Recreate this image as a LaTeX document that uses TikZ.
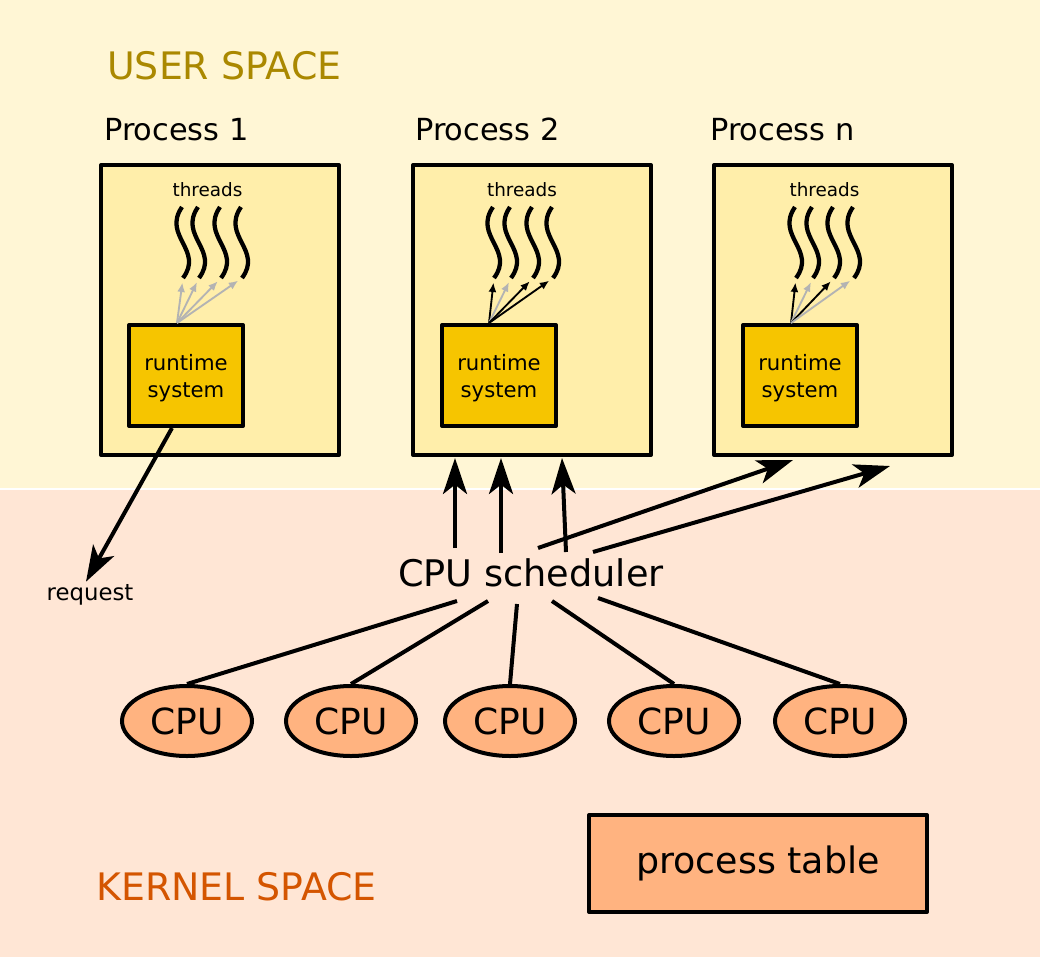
\documentclass[tikz,border=0pt]{standalone}
\usepackage{fontspec}
\setmainfont{DejaVu Sans}
\usetikzlibrary{shapes.geometric,arrows.meta,calc}

\definecolor{userbg}{HTML}{FFF6D5}
\definecolor{kernelbg}{HTML}{FFE6D5}
\definecolor{procfill}{HTML}{FFEEAA}
\definecolor{rtfill}{HTML}{F6C500}
\definecolor{cpufill}{HTML}{FFB380}
\definecolor{usertext}{HTML}{AA8800}
\definecolor{kerneltext}{HTML}{D45500}
\definecolor{greyarrow}{HTML}{B3B3B3}

\tikzset{
    spacelabel/.style={anchor=base west, inner sep=0pt, font=\fontsize{28.4pt}{32pt}\selectfont},
    proclabel/.style={anchor=base west, inner sep=0pt, font=\fontsize{22.8pt}{27pt}\selectfont},
    procbox/.style={draw, line width=3pt, line join=round, fill=procfill, minimum width=178.5pt, minimum height=217.5pt},
    runtime/.style={draw, line width=3pt, line join=round, fill=rtfill, minimum width=85.5pt, minimum height=75.75pt, align=center, inner sep=0pt, text depth=0pt, font=\fontsize{15.9pt}{20.25pt}\selectfont},
    threadlabel/.style={anchor=base, inner sep=0pt, font=\fontsize{13.8pt}{16pt}\selectfont},
    thread/.style={line width=3.2pt},
    tharrow/.style={line width=1.4pt, -{Latex[length=7pt,width=6pt]}, shorten >=3.5pt},
    bigarrow/.style={line width=3pt, -{Stealth[length=27pt,width=18pt,inset=7pt]}},
    link/.style={line width=3pt},
    cpu/.style={ellipse, draw, line width=3pt, fill=cpufill, minimum width=97.5pt, minimum height=52.5pt, inner sep=0pt, font=\fontsize{27pt}{30pt}\selectfont},
    ptable/.style={draw, line width=3pt, line join=round, fill=cpufill, minimum width=253.5pt, minimum height=72.75pt, font=\fontsize{27.3pt}{32pt}\selectfont},
    small/.style={inner sep=2pt, font=\fontsize{17.1pt}{20pt}\selectfont}
}

\begin{document}
\begin{tikzpicture}[x=0.75pt,y=-0.75pt]
    \useasboundingbox (0,0) rectangle (1040,957);

    % user space / kernel space
    \fill[white] (0,0) rectangle (1040,957);
    \fill[userbg] (0,0) rectangle (1040,488);
    \fill[kernelbg] (0,490) rectangle (1040,957);
    \node[spacelabel, text=usertext] (user) at (107,79) {USER SPACE};
    \node[spacelabel, text=kerneltext] (kernel) at (96,900) {KERNEL SPACE};

    % processes
    \node[procbox] (p1) at (220,310) {};
    \node[procbox] (p2) at (532,310) {};
    \node[procbox] (pn) at (833,310) {};
    \node[proclabel] (l1) at (104,140) {Process 1};
    \node[proclabel] (l2) at (415,140) {Process 2};
    \node[proclabel] (ln) at (710,140) {Process n};
    \node[runtime] (r1) at (186,375.5) {runtime\\system};
    \node[runtime] (r2) at (499,375.5) {runtime\\system};
    \node[runtime] (rn) at (800,375.5) {runtime\\system};

    % Process 1
    \node[threadlabel] (th1) at (207.5,196) {threads};
    \draw[thread] (182,207) .. controls (162,236) and (204,250) .. (183,278) coordinate (t1a)
        (198,207) .. controls (178,236) and (220,250) .. (199,278) coordinate (t1b)
        (220,207) .. controls (200,236) and (242,250) .. (221,278) coordinate (t1c)
        (241,207) .. controls (221,236) and (263,250) .. (242,278) coordinate (t1d);
    \draw[tharrow, greyarrow] ($(r1.north)+(-9,0)$) -- (t1a);
    \draw[tharrow, greyarrow] ($(r1.north)+(-9,0)$) -- (t1b);
    \draw[tharrow, greyarrow] ($(r1.north)+(-9,0)$) -- (t1c);
    \draw[tharrow, greyarrow] ($(r1.north)+(-9,0)$) -- (t1d);

    % Process 2
    \node[threadlabel] (th2) at (522,196) {threads};
    \draw[thread] (493,207) .. controls (473,236) and (515,250) .. (494,278) coordinate (t2a)
        (510,207) .. controls (490,236) and (532,250) .. (511,278) coordinate (t2b)
        (532,207) .. controls (512,236) and (554,250) .. (533,278) coordinate (t2c)
        (552,207) .. controls (532,236) and (574,250) .. (553,278) coordinate (t2d);
    \draw[tharrow] ($(r2.north)+(-10,0)$) -- (t2a);
    \draw[tharrow, greyarrow] ($(r2.north)+(-10,0)$) -- (t2b);
    \draw[tharrow] ($(r2.north)+(-10,0)$) -- (t2c);
    \draw[tharrow] ($(r2.north)+(-10,0)$) -- (t2d);

    % Process n
    \node[threadlabel] (thn) at (824.5,196) {threads};
    \draw[thread] (795,207) .. controls (775,236) and (817,250) .. (796,278) coordinate (tna)
        (812,207) .. controls (792,236) and (834,250) .. (813,278) coordinate (tnb)
        (833,207) .. controls (813,236) and (855,250) .. (834,278) coordinate (tnc)
        (853,207) .. controls (833,236) and (875,250) .. (854,278) coordinate (tnd);
    \draw[tharrow] ($(rn.north)+(-9,0)$) -- (tna);
    \draw[tharrow, greyarrow] ($(rn.north)+(-9,0)$) -- (tnb);
    \draw[tharrow] ($(rn.north)+(-9,0)$) -- (tnc);
    \draw[tharrow, greyarrow] ($(rn.north)+(-9,0)$) -- (tnd);

    % request
    \node[small] (req) at (90,595) {request};
    \draw[bigarrow] ($(r1.south)+(-14,0)$) -- ($(req.north)+(-4,0)$);

    % scheduler
    \node[anchor=base, inner sep=0pt, font=\fontsize{27.5pt}{32pt}\selectfont] (sched) at (531,586) {CPU scheduler};
    \draw[bigarrow] ($(sched.base)+(-76,-38)$) -- ($(p2.south)+(-77,1)$);
    \draw[bigarrow] ($(sched.base)+(-30,-33)$) -- ($(p2.south)+(-31,1)$);
    \draw[bigarrow] ($(sched.base)+(35,-34)$) -- ($(p2.south)+(30,1)$);
    \draw[bigarrow] ($(sched.base)+(7,-38)$) -- ($(pn.south)+(-40,3)$);
    \draw[bigarrow] ($(sched.base)+(62,-34)$) -- ($(pn.south)+(57,9)$);

    % CPUs
    \node[cpu] (c1) at (187,721) {CPU};
    \node[cpu] (c2) at (351,721) {CPU};
    \node[cpu] (c3) at (510,721) {CPU};
    \node[cpu] (c4) at (674,721) {CPU};
    \node[cpu] (c5) at (840,721) {CPU};
    \draw[link] ($(sched.base)+(-74,15)$) -- (c1.north);
    \draw[link] ($(sched.base)+(-43,15)$) -- (c2.north);
    \draw[link] ($(sched.base)+(-14,18)$) -- (c3.north);
    \draw[link] ($(sched.base)+(21,15)$) -- (c4.north);
    \draw[link] ($(sched.base)+(67,12)$) -- (c5.north);

    % process table
    \node[ptable] (ptab) at (758,863.5) {process table};
\end{tikzpicture}
\end{document}
